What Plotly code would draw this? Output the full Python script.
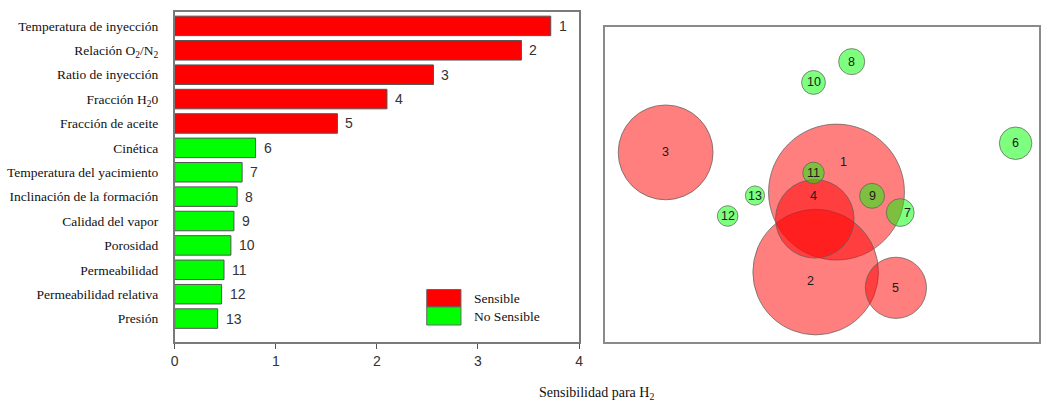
import plotly.graph_objects as go

# Sensitivity ranking for H2 production
parametros = [
    "Temperatura de inyección",
    "Relación O<sub>2</sub>/N<sub>2</sub>",
    "Ratio de inyección",
    "Fracción H<sub>2</sub>0",
    "Fracción de aceite",
    "Cinética",
    "Temperatura del yacimiento",
    "Inclinación de la formación",
    "Calidad del vapor",
    "Porosidad",
    "Permeabilidad",
    "Permeabilidad relativa",
    "Presión",
]
rango = list(range(1, 14))
sensibilidad = [3.72, 3.43, 2.56, 2.10, 1.61, 0.80, 0.667, 0.618, 0.586, 0.556, 0.488, 0.464, 0.425]
sensible = [True] * 5 + [False] * 8

# Bubble map positions (arbitrary 0-100 plane)
burbuja_x = [53.3, 48.5, 13.9, 48.3, 67.0, 94.6, 68.0, 56.8, 61.5, 48.0, 48.0, 28.2, 34.5]
burbuja_y = [47.6, 22.2, 60.2, 39.1, 17.2, 63.1, 41.1, 89.0, 46.4, 82.4, 53.7, 40.0, 46.5]

# label nudges in px (xshift, yshift) for crowded bubbles
label_nudge = {1: (7, 30), 2: (-5, -9), 4: (-1, 23), 7: (7, 0)}

ROJO = "#ff0000"
VERDE = "#00ff00"
SERIF = "Liberation Serif"
SANS = "Liberation Sans"
W, H = 1045, 402

fig = go.Figure()

idx = list(range(len(parametros)))
for flag, color in ((True, ROJO), (False, VERDE)):
    ys = [i for i in idx if sensible[i] == flag]
    fig.add_trace(go.Bar(
        x=[sensibilidad[i] for i in ys], y=ys, orientation="h",
        marker=dict(color=color, line=dict(color="#555555", width=1)),
        width=0.8, xaxis="x", yaxis="y", showlegend=False, hoverinfo="skip",
    ))

# rank numbers next to bars
for i in idx:
    fig.add_annotation(
        x=sensibilidad[i], y=i, xref="x", yref="y", text=str(rango[i]),
        showarrow=False, xanchor="left", xshift=6,
        font=dict(family=SANS, size=14, color="#333333"),
    )

# bubble chart: radius follows sensitivity
def diam(v):
    return 2 * (17.7 * v + 2.1)

for flag, color in ((True, "rgba(255,0,0,0.5)"), (False, "rgba(0,255,0,0.5)")):
    ids = [i for i in idx if sensible[i] == flag]
    fig.add_trace(go.Scatter(
        x=[burbuja_x[i] for i in ids], y=[burbuja_y[i] for i in ids],
        mode="markers", xaxis="x2", yaxis="y2",
        marker=dict(size=[diam(sensibilidad[i]) for i in ids], sizemode="diameter",
                    opacity=1, color=color,
                    line=dict(color="rgba(90,90,90,0.7)", width=1)),
        showlegend=False, hoverinfo="skip",
    ))

for i in idx:
    dx, dy = label_nudge.get(rango[i], (0, 0))
    fig.add_annotation(
        x=burbuja_x[i], y=burbuja_y[i], xref="x2", yref="y2", text=str(rango[i]),
        showarrow=False, xshift=dx, yshift=dy,
        font=dict(family=SANS, size=12.5, color="#1a1a1a"),
    )

# legend: swatches and labels placed in page pixels
legend_items = ((289.5, 307, ROJO, "Sensible"), (307, 325, VERDE, "No Sensible"))
for (top, bottom, color, label) in legend_items:
    fig.add_shape(type="rect", xref="paper", yref="paper",
                  x0=426 / W, x1=460.5 / W, y0=1 - bottom / H, y1=1 - top / H,
                  fillcolor=color, line=dict(color="#666666", width=1))
    fig.add_annotation(x=472 / W, y=1 - (top + bottom) / 2 / H, xref="paper", yref="paper",
                       text=label, showarrow=False, xanchor="left", yanchor="middle",
                       font=dict(family=SERIF, size=13.5, color="#111111"))

fig.add_annotation(x=0.5715, y=1 - 393 / H, xref="paper", yref="paper",
                   text="Sensibilidad para H<sub>2</sub>", showarrow=False, yanchor="middle",
                   font=dict(family=SERIF, size=14, color="#111111"))

fig.update_layout(
    width=W, height=H, margin=dict(l=0, r=0, t=0, b=0),
    paper_bgcolor="white", plot_bgcolor="white", barmode="overlay",
    xaxis=dict(domain=[172 / W, 579.5 / W], range=[0, 4], tickvals=[0, 1, 2, 3, 4],
               ticks="outside", ticklen=5, tickcolor="#555555", showgrid=False, zeroline=False,
               showline=True, mirror=True, linecolor="#7a7a7a", linewidth=1.5,
               tickfont=dict(family=SANS, size=14, color="#333333"), anchor="y"),
    yaxis=dict(domain=[1 - 342 / H, 1 - 12 / H], range=[12.96, -0.57],
               tickvals=idx, ticktext=parametros, ticks="", showgrid=False, zeroline=False,
               showline=True, mirror=True, linecolor="#7a7a7a", linewidth=1.5,
               ticklabelstandoff=12,
               tickfont=dict(family=SERIF, size=13.5, color="#111111"), anchor="x"),
    xaxis2=dict(domain=[606 / W, 1043 / W], range=[0, 100], showticklabels=False,
                ticks="", showgrid=False, zeroline=False, showline=True, mirror=True,
                linecolor="#8a8a8a", linewidth=1.5, anchor="y2"),
    yaxis2=dict(domain=[1 - 342 / H, 1 - 27 / H], range=[0, 100], showticklabels=False,
                ticks="", showgrid=False, zeroline=False, showline=True, mirror=True,
                linecolor="#8a8a8a", linewidth=1.5, anchor="x2"),
)

fig.write_html("out.html")
